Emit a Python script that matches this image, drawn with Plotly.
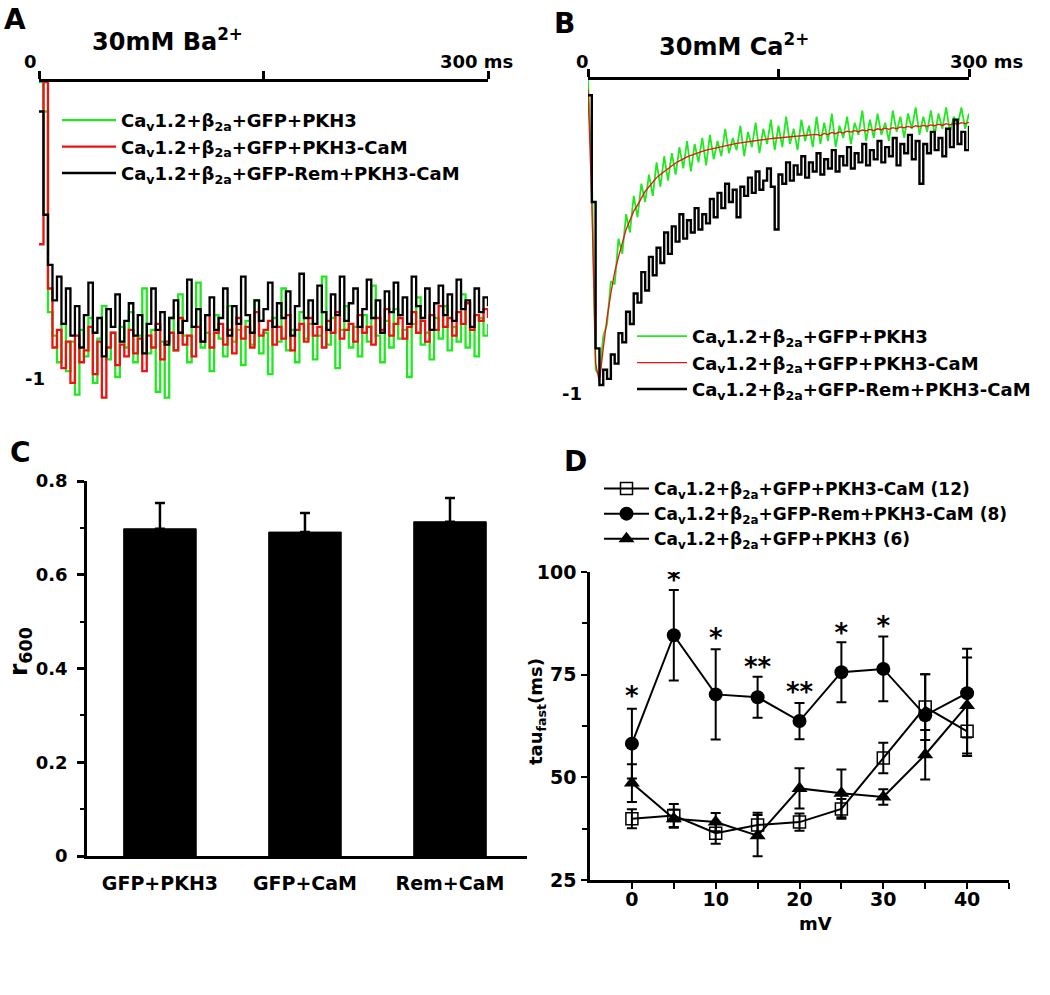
import plotly.graph_objects as go

W, H = 1050, 995
FONT = "DejaVu Sans, Liberation Sans, Arial, sans-serif"

# ---------------- Panel A / B : normalized current traces (sampled every 3 ms) ----------------
dt_ms = 3
GREEN, RED, BLACK = "#22e822", "#ee1111", "#000000"
names = ["Ca<sub>v</sub>1.2+β<sub>2a</sub>+GFP+PKH3",
         "Ca<sub>v</sub>1.2+β<sub>2a</sub>+GFP+PKH3-CaM",
         "Ca<sub>v</sub>1.2+β<sub>2a</sub>+GFP-Rem+PKH3-CaM"]

ba_green = [0.00, -0.10, -0.78, -0.86, -0.95, -0.82, -0.98, -0.88, -1.06, -0.84,
            -0.93, -0.80, -1.02, -0.87, -0.76, -0.94, -0.85, -1.00, -0.83, -0.90,
            -0.78, -0.95, -0.86, -0.70, -0.92, -0.84, -1.05, -0.88, -1.07, -0.80,
            -0.91, -0.72, -0.86, -0.95, -0.83, -0.68, -0.90, -0.85, -0.98, -0.79,
            -0.87, -0.93, -0.76, -0.88, -0.84, -0.96, -0.81, -0.89, -0.74, -0.92,
            -0.85, -0.99, -0.80, -0.88, -0.70, -0.91, -0.84, -0.95, -0.78, -0.87,
            -0.82, -0.94, -0.86, -0.66, -0.89, -0.80, -0.97, -0.84, -0.76, -0.90,
            -0.83, -0.93, -0.79, -0.88, -0.69, -0.86, -0.95, -0.81, -0.90, -0.77,
            -0.87, -0.84, -1.00, -0.82, -0.73, -0.89, -0.85, -0.94, -0.80, -0.87,
            -0.76, -0.91, -0.83, -0.88, -0.72, -0.90, -0.84, -0.93, -0.80, -0.86,
            -0.82]
ba_red = [-0.55, 0.00, -0.70, -0.90, -0.84, -0.97, -0.88, -1.02, -0.86, -0.95,
          -0.91, -0.83, -0.99, -0.88, -1.07, -0.90, -0.85, -0.96, -0.89, -0.93,
          -0.84, -0.92, -0.87, -0.98, -0.86, -0.90, -0.82, -0.94, -0.88, -0.85,
          -0.91, -0.80, -0.89, -0.86, -0.93, -0.83, -0.88, -0.79, -0.90, -0.85,
          -0.82, -0.89, -0.84, -0.92, -0.80, -0.87, -0.83, -0.90, -0.78, -0.86,
          -0.84, -0.81, -0.89, -0.83, -0.87, -0.79, -0.91, -0.84, -0.82, -0.88,
          -0.80, -0.86, -0.83, -0.90, -0.81, -0.85, -0.78, -0.87, -0.84, -0.82,
          -0.88, -0.79, -0.85, -0.83, -0.89, -0.80, -0.84, -0.77, -0.86, -0.82,
          -0.80, -0.87, -0.83, -0.78, -0.85, -0.81, -0.88, -0.79, -0.84, -0.76,
          -0.83, -0.80, -0.86, -0.78, -0.82, -0.75, -0.84, -0.79, -0.81, -0.77,
          -0.80]
ba_black = [-0.10, -0.45, -0.62, -0.74, -0.66, -0.82, -0.70, -0.86, -0.76, -0.90,
            -0.79, -0.68, -0.85, -0.80, -0.93, -0.77, -0.83, -0.72, -0.88, -0.81,
            -0.75, -0.86, -0.79, -0.92, -0.82, -0.70, -0.84, -0.78, -0.89, -0.80,
            -0.74, -0.85, -0.81, -0.67, -0.83, -0.77, -0.88, -0.79, -0.73, -0.84,
            -0.80, -0.70, -0.86, -0.76, -0.82, -0.66, -0.79, -0.85, -0.74, -0.81,
            -0.77, -0.68, -0.83, -0.75, -0.80, -0.71, -0.86, -0.76, -0.65, -0.80,
            -0.74, -0.82, -0.69, -0.78, -0.84, -0.72, -0.79, -0.66, -0.81, -0.75,
            -0.70, -0.83, -0.77, -0.67, -0.80, -0.74, -0.85, -0.71, -0.78, -0.68,
            -0.79, -0.73, -0.82, -0.66, -0.76, -0.80, -0.70, -0.84, -0.75, -0.69,
            -0.79, -0.72, -0.81, -0.67, -0.77, -0.74, -0.83, -0.70, -0.78, -0.73,
            -0.76]

ca_green = [0.00, -0.30, -0.95, -0.97, -0.84, -0.80, -0.66, -0.67, -0.52, -0.57,
            -0.44, -0.50, -0.38, -0.45, -0.34, -0.40, -0.31, -0.38, -0.27, -0.35,
            -0.25, -0.33, -0.24, -0.31, -0.22, -0.29, -0.20, -0.30, -0.21, -0.27,
            -0.19, -0.28, -0.18, -0.26, -0.20, -0.25, -0.16, -0.24, -0.19, -0.23,
            -0.15, -0.25, -0.17, -0.22, -0.14, -0.24, -0.16, -0.21, -0.13, -0.23,
            -0.15, -0.22, -0.12, -0.21, -0.16, -0.23, -0.13, -0.20, -0.15, -0.22,
            -0.12, -0.21, -0.14, -0.20, -0.11, -0.22, -0.15, -0.19, -0.12, -0.21,
            -0.14, -0.18, -0.10, -0.20, -0.13, -0.19, -0.11, -0.18, -0.14, -0.20,
            -0.10, -0.17, -0.12, -0.19, -0.11, -0.16, -0.09, -0.18, -0.12, -0.17,
            -0.10, -0.18, -0.11, -0.16, -0.09, -0.17, -0.12, -0.15, -0.09, -0.16,
            -0.11]
ca_red = [-0.03, -0.40, -0.93, -0.99, -0.88, -0.78, -0.70, -0.63, -0.58, -0.53,
          -0.49, -0.46, -0.43, -0.41, -0.385, -0.365, -0.35, -0.335, -0.32, -0.31,
          -0.30, -0.29, -0.28, -0.272, -0.265, -0.258, -0.252, -0.247, -0.242, -0.238,
          -0.234, -0.23, -0.227, -0.224, -0.221, -0.218, -0.215, -0.213, -0.21, -0.208,
          -0.206, -0.204, -0.202, -0.20, -0.198, -0.197, -0.195, -0.194, -0.192, -0.191,
          -0.19, -0.188, -0.187, -0.186, -0.184, -0.183, -0.182, -0.181, -0.18, -0.179,
          -0.178, -0.182, -0.175, -0.179, -0.172, -0.176, -0.170, -0.174, -0.168, -0.171,
          -0.166, -0.170, -0.164, -0.167, -0.162, -0.166, -0.160, -0.163, -0.158, -0.162,
          -0.156, -0.160, -0.154, -0.157, -0.152, -0.156, -0.150, -0.153, -0.149, -0.152,
          -0.147, -0.150, -0.145, -0.149, -0.143, -0.147, -0.142, -0.145, -0.140, -0.143,
          -0.139]
ca_black = [-0.05, -0.40, -0.88, -1.00, -0.95, -0.98, -0.90, -0.93, -0.83, -0.86,
            -0.76, -0.80, -0.70, -0.73, -0.63, -0.69, -0.58, -0.64, -0.55, -0.60,
            -0.50, -0.57, -0.48, -0.53, -0.44, -0.52, -0.46, -0.50, -0.42, -0.49,
            -0.44, -0.47, -0.39, -0.45, -0.37, -0.42, -0.34, -0.40, -0.36, -0.45,
            -0.35, -0.38, -0.32, -0.37, -0.30, -0.36, -0.33, -0.29, -0.35, -0.49,
            -0.31, -0.34, -0.27, -0.33, -0.28, -0.31, -0.25, -0.32, -0.27, -0.30,
            -0.24, -0.31, -0.26, -0.29, -0.23, -0.30, -0.25, -0.28, -0.22, -0.29,
            -0.24, -0.27, -0.21, -0.28, -0.23, -0.26, -0.20, -0.27, -0.22, -0.25,
            -0.19, -0.28, -0.21, -0.24, -0.18, -0.26, -0.20, -0.34, -0.21, -0.24,
            -0.17, -0.23, -0.19, -0.25, -0.16, -0.22, -0.13, -0.21, -0.17, -0.23,
            -0.15]

# ---------------- Panel C : r600 bar chart ----------------
c_categories = ["GFP+PKH3", "GFP+CaM", "Rem+CaM"]
c_values = [0.698, 0.691, 0.713]
c_errors = [0.055, 0.041, 0.051]

# ---------------- Panel D : tau_fast vs voltage ----------------
d_mv = [0, 5, 10, 15, 20, 25, 30, 35, 40]
d_cam = [39.9, 40.7, 36.4, 38.4, 39.1, 42.3, 54.7, 67.1, 61.2]
d_cam_err = [2.3, 2.8, 2.6, 3.0, 2.1, 2.4, 3.7, 8.0, 6.0]
d_rem = [58.2, 84.6, 70.2, 69.5, 63.7, 75.6, 76.4, 65.1, 70.5]
d_rem_err = [8.5, 11.0, 11.0, 5.0, 4.4, 7.3, 7.9, 10.0, 10.8]
d_pkh3 = [48.6, 39.9, 39.1, 35.8, 47.3, 46.1, 45.2, 55.5, 67.5]
d_pkh3_err = [4.6, 2.2, 2.2, 5.0, 4.9, 5.8, 1.9, 6.0, 11.7]
d_names = ["Ca<sub>v</sub>1.2+β<sub>2a</sub>+GFP+PKH3-CaM (12)",
           "Ca<sub>v</sub>1.2+β<sub>2a</sub>+GFP-Rem+PKH3-CaM (8)",
           "Ca<sub>v</sub>1.2+β<sub>2a</sub>+GFP+PKH3 (6)"]
star_mv = [0, 5, 10, 15, 20, 25, 30]
star_y = [69.1, 97.4, 83.3, 76.2, 70.2, 84.6, 86.2]
star_text = ["*", "*", "*", "**", "**", "*", "*"]


def px_x(p):
    return p / W


def px_y(p):
    return 1 - p / H


fig = go.Figure()

t_a = [i * dt_ms for i in range(len(ba_green))]
for ys, col, nm in zip([ba_green, ba_red, ba_black], [GREEN, RED, BLACK], names):
    fig.add_trace(go.Scatter(x=t_a, y=ys, mode="lines", line=dict(color=col, width=2.3, shape="hv"),
                             name=nm, xaxis="x", yaxis="y", legend="legend"))
t_b = [i * dt_ms for i in range(len(ca_green))]
for ys, col, nm, w, shp in zip([ca_green, ca_red, ca_black], [GREEN, RED, BLACK], names,
                                [1.8, 1.3, 2.4], ["linear", "linear", "hv"]):
    fig.add_trace(go.Scatter(x=t_b, y=ys, mode="lines", line=dict(color=col, width=w, shape=shp),
                             name=nm, xaxis="x2", yaxis="y2", legend="legend2"))

fig.add_trace(go.Bar(x=[0, 1, 2], y=c_values, width=0.5, marker=dict(color="black", line=dict(color="black", width=1)),
                     error_y=dict(type="data", array=c_errors, arrayminus=[0, 0, 0], symmetric=False,
                                  color="black", thickness=2.5, width=5),
                     showlegend=False, xaxis="x3", yaxis="y3"))

d_styles = [dict(symbol="square-open", size=12, color="black", line=dict(width=1.5, color="black")),
            dict(symbol="circle", size=14, color="black"),
            dict(symbol="triangle-up", size=14, color="black")]
for ys, es, nm, mk in zip([d_cam, d_rem, d_pkh3], [d_cam_err, d_rem_err, d_pkh3_err], d_names, d_styles):
    fig.add_trace(go.Scatter(x=d_mv, y=ys, mode="lines+markers", name=nm,
                             line=dict(color="black", width=2), marker=mk,
                             error_y=dict(type="data", array=es, color="black", thickness=2, width=5),
                             xaxis="x4", yaxis="y4", legend="legend3"))
fig.add_trace(go.Scatter(x=star_mv, y=star_y, mode="text", text=star_text, showlegend=False,
                         textfont=dict(size=26, color="black", family=FONT),
                         xaxis="x4", yaxis="y4"))

noline = dict(showgrid=False, zeroline=False, linecolor="black", tickcolor="black")


def tf(size):
    return dict(family=FONT, size=size, color="black", weight="bold")


fig.update_layout(
    width=W, height=H, margin=dict(l=0, r=0, t=0, b=0, autoexpand=False),
    paper_bgcolor="white", plot_bgcolor="rgba(0,0,0,0)",
    font=dict(family=FONT, color="black", weight="bold"),
    # Panel A
    xaxis=dict(domain=[px_x(39), px_x(488)], range=[0, 300], anchor="y", side="top", showline=True,
               linewidth=2.5, ticks="outside", tickvals=[0, 150, 300], ticklen=8, tickwidth=2.5,
               showticklabels=False, automargin=False, **noline),
    yaxis=dict(domain=[px_y(410), px_y(82)], range=[-(410 - 82) / 295, 0], visible=False),
    # Panel B
    xaxis2=dict(domain=[px_x(588), px_x(969)], range=[0, 300], anchor="y2", side="top", showline=True,
                linewidth=2.5, ticks="outside", tickvals=[0, 150, 300], ticklen=8, tickwidth=2.5,
                showticklabels=False, automargin=False, **noline),
    yaxis2=dict(domain=[px_y(400), px_y(80)], range=[-(400 - 80) / 305, 0], visible=False),
    # Panel C
    xaxis3=dict(domain=[px_x(87), px_x(527)], range=[-0.503, 2.531], anchor="y3", showline=True,
                linewidth=2.5, ticks="", tickvals=[0, 1, 2], ticktext=c_categories,
                ticklabelstandoff=8, tickfont=tf(19), automargin=False, **noline),
    yaxis3=dict(domain=[px_y(856), px_y(481)], range=[0, 0.8], anchor="x3", showline=True, linewidth=2.5,
                ticks="outside", ticklen=7, tickwidth=2.5, tickvals=[0, 0.2, 0.4, 0.6, 0.8],
                ticktext=["0", "0.2", "0.4", "0.6", "0.8"], ticklabelstandoff=6, tickfont=tf(18),
                minor=dict(tickvals=[0.1, 0.3, 0.5, 0.7], ticks="outside", ticklen=4, tickwidth=2, tickcolor="black"),
                automargin=False, **noline),
    # Panel D
    xaxis4=dict(domain=[px_x(590), px_x(1009)], range=[-5, 45], anchor="y4", showline=True, linewidth=2.5,
                ticks="outside", ticklen=6, tickwidth=2, tickvals=[0, 10, 20, 30, 40], tickfont=tf(19),
                ticklabelstandoff=-6, automargin=False,
                minor=dict(tickvals=[5, 15, 25, 35, 45], ticks="outside", ticklen=6, tickwidth=2, tickcolor="black"),
                **noline),
    yaxis4=dict(domain=[px_y(880), px_y(572)], range=[25, 100], anchor="x4", showline=True, linewidth=2.5,
                ticks="outside", ticklen=6, tickwidth=2, tickvals=[25, 50, 75, 100], ticklabelstandoff=1,
                tickfont=tf(19), automargin=False,
                minor=dict(tickvals=[37.5, 62.5, 87.5], ticks="outside", ticklen=5, tickwidth=2, tickcolor="black"),
                **noline),
    legend=dict(x=px_x(57), y=px_y(102), xanchor="left", yanchor="top", bgcolor="rgba(0,0,0,0)",
                itemwidth=54, font=tf(18), tracegroupgap=0),
    legend2=dict(x=px_x(632), y=px_y(318), xanchor="left", yanchor="top", bgcolor="rgba(0,0,0,0)",
                 itemwidth=50, font=tf(18), tracegroupgap=0),
    legend3=dict(x=px_x(599), y=px_y(471), xanchor="left", yanchor="top", bgcolor="rgba(0,0,0,0)",
                 itemwidth=45, font=tf(17), tracegroupgap=0),
)

ann = [
    dict(text="A", x=px_x(2), y=px_y(20), xanchor="left", size=28),
    dict(text="B", x=px_x(552), y=px_y(24), xanchor="left", size=28),
    dict(text="C", x=px_x(8), y=px_y(452), xanchor="left", size=28),
    dict(text="D", x=px_x(562), y=px_y(461), xanchor="left", size=28),
    dict(text="30mM Ba<sup>2+</sup>", x=px_x(90), y=px_y(40), xanchor="left", size=24),
    dict(text="30mM Ca<sup>2+</sup>", x=px_x(657), y=px_y(45), xanchor="left", size=24),
    dict(text="0", x=px_x(30), y=px_y(62), xanchor="center", size=18),
    dict(text="300 ms", x=px_x(476), y=px_y(62), xanchor="center", size=18),
    dict(text="-1", x=px_x(35), y=px_y(378), xanchor="center", size=18),
    dict(text="0", x=px_x(582), y=px_y(62), xanchor="center", size=18),
    dict(text="300 ms", x=px_x(986), y=px_y(62), xanchor="center", size=18),
    dict(text="-1", x=px_x(572), y=px_y(393), xanchor="center", size=18),
    dict(text="r<sub>600</sub>", x=px_x(20), y=px_y(652), xanchor="center", size=25, angle=-90),
    dict(text="tau<sub>fast</sub>(ms)", x=px_x(537), y=px_y(712), xanchor="center", size=18, angle=-90),
    dict(text="mV", x=px_x(815), y=px_y(923), xanchor="center", size=18),
]
for a in ann:
    fig.add_annotation(text=a["text"], x=a["x"], y=a["y"], xref="paper", yref="paper",
                       xanchor=a["xanchor"], yanchor="middle", showarrow=False,
                       textangle=a.get("angle", 0), font=tf(a["size"]))

fig.write_html("out.html", config={"displayModeBar": False},
               post_script="document.body.style.margin='0';document.body.style.overflow='hidden';")
